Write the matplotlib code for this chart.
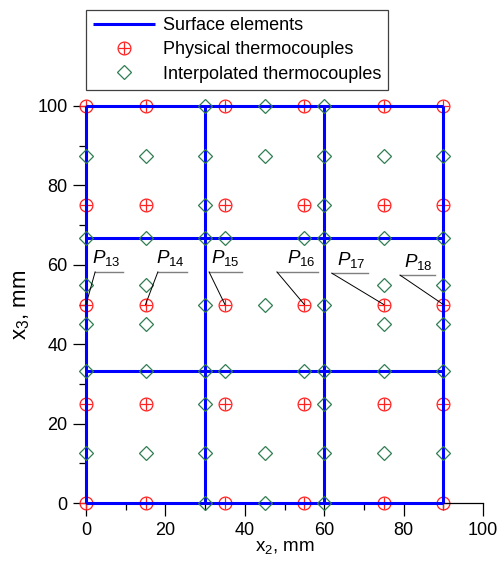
import matplotlib
matplotlib.use("Agg")
import matplotlib.pyplot as plt
from matplotlib.ticker import MultipleLocator

plt.rcParams['font.family'] = ['Liberation Sans', 'DejaVu Sans']
plt.rcParams['mathtext.fontset'] = 'custom'
plt.rcParams['mathtext.rm'] = 'Liberation Sans'
plt.rcParams['mathtext.it'] = 'Liberation Sans:italic'

# Surface element grid
grid_x = [0, 30, 60, 90]
grid_y = [0, 100 / 3, 200 / 3, 100]

# Physical thermocouples
phys_x = [0, 15, 35, 55, 75, 90]
phys_y = [0, 25, 50, 75, 100]

# Interpolated thermocouples (rows: y value -> x positions)
interp_rows = {
    100: [30, 45, 60],
    87.5: [0, 15, 30, 45, 60, 75, 90],
    75: [30, 60],
    200 / 3: [0, 15, 30, 35, 55, 60, 75, 90],
    55: [0, 15, 75, 90],
    50: [30, 45, 60],
    45: [0, 15, 75, 90],
    100 / 3: [0, 15, 30, 35, 55, 60, 75, 90],
    25: [30, 60],
    12.5: [0, 15, 30, 45, 60, 75, 90],
    0: [30, 45, 60],
}

# Labelled physical thermocouples (at x3 = 50)
label_names = ['13', '14', '15', '16', '17', '18']
label_pts_x = [0, 15, 35, 55, 75, 90]
label_pt_y = 50
# underline left/right ends and height
ul_left = [2.3, 18.1, 31.0, 48.1, 61.9, 79.1]
ul_right = [9.3, 25.4, 39.3, 58.4, 71.0, 87.9]
ul_y = [58.2, 58.2, 58.2, 58.2, 57.9, 57.4]

xticks = [0, 20, 40, 60, 80, 100]
yticks = [0, 20, 40, 60, 80, 100]

fig = plt.figure(figsize=(4.97, 5.66), dpi=100)
ax = fig.add_axes([86 / 497, 1 - 503 / 566, 397 / 497, 397 / 566])

# physical thermocouples (circle + plus)
px = [x for y in phys_y for x in phys_x]
py = [y for y in phys_y for x in phys_x]
h_o, = ax.plot(px, py, linestyle='none', marker='o', markersize=9.2,
               markerfacecolor='none', markeredgecolor='#ff2020',
               markeredgewidth=0.9, zorder=2)
h_p, = ax.plot(px, py, linestyle='none', marker='+', markersize=9.2,
               markeredgecolor='#ff2020', markeredgewidth=0.9, zorder=2)

# surface elements
h_line = None
for gy in grid_y:
    h_line, = ax.plot([grid_x[0], grid_x[-1]], [gy, gy], color='#0000ff',
                      lw=2.2, zorder=3, solid_capstyle='butt')
for gx in grid_x:
    ax.plot([gx, gx], [grid_y[0], grid_y[-1]], color='#0000ff', lw=2.2,
            zorder=3, solid_capstyle='butt')

# interpolated thermocouples
ix = [x for y, xs in interp_rows.items() for x in xs]
iy = [y for y, xs in interp_rows.items() for x in xs]
h_d, = ax.plot(ix, iy, linestyle='none', marker='D', markersize=6.9,
               markerfacecolor='none', markeredgecolor='#2e7d4f',
               markeredgewidth=0.9, zorder=4)

# labels
for name, lx, l0, l1, uy in zip(label_names, label_pts_x, ul_left, ul_right, ul_y):
    ax.plot([l0, l1], [uy, uy], color='#7f7f7f', lw=1.0, zorder=5)
    ax.plot([l0, lx], [uy, label_pt_y], color='black', lw=0.7, zorder=5)
    ax.text(l1 - 0.6, uy + 0.9, r'$P_{%s}$' % name, ha='right', va='bottom',
            fontsize=13.5, zorder=6)

ax.set_xlim(0, 100)
ax.set_ylim(0, 100)
ax.set_xticks(xticks)
ax.set_yticks(yticks)
ax.xaxis.set_minor_locator(MultipleLocator(10))
ax.yaxis.set_minor_locator(MultipleLocator(10))
ax.tick_params(which='major', direction='out', length=9.4, width=0.9,
               labelsize=13, pad=4)
ax.tick_params(which='minor', direction='out', length=4.7, width=0.9)
ax.spines['top'].set_visible(False)
ax.spines['right'].set_visible(False)
for s in ['left', 'bottom']:
    ax.spines[s].set_linewidth(0.9)
for art in ax.lines:
    art.set_clip_on(False)

ax.set_xlabel(r'x$_{\mathregular{2}}$, mm', fontsize=13.5, labelpad=0)
ax.set_ylabel(r'x$_{\mathregular{3}}$, mm', fontsize=16, labelpad=4)

leg = ax.legend([h_line, (h_o, h_p), h_d],
                ['Surface elements', 'Physical thermocouples',
                 'Interpolated thermocouples'],
                loc='upper left', bbox_to_anchor=(0.0, 1.242),
                borderaxespad=0, fontsize=13, handlelength=3.4,
                fancybox=False, framealpha=1, edgecolor='#404040',
                labelspacing=0.4, handletextpad=0.45, borderpad=0.4)
leg.get_frame().set_linewidth(0.9)

fig.savefig('out.png', dpi=100)
